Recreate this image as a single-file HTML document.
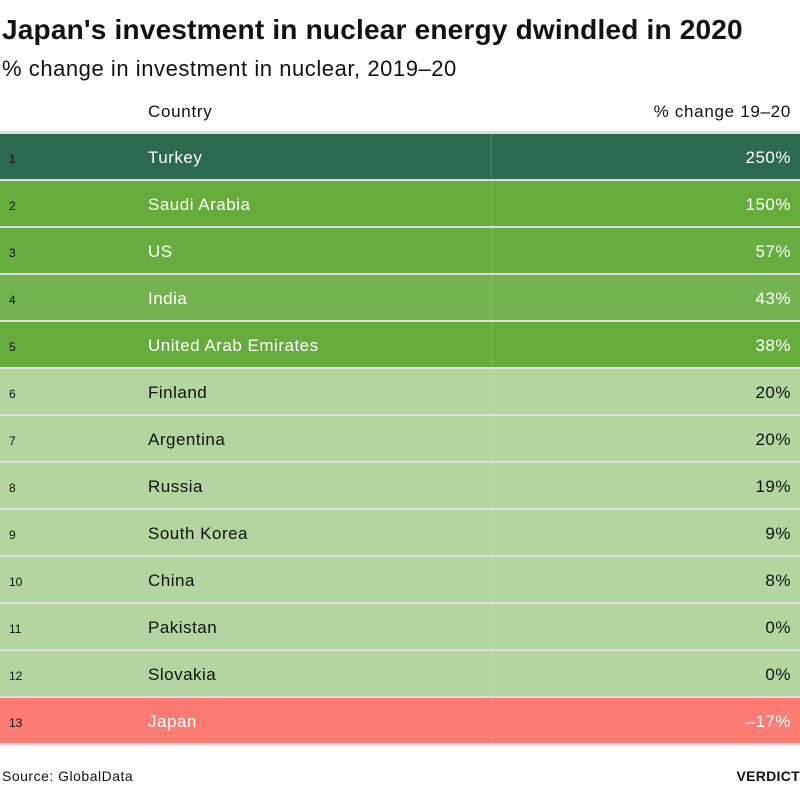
<!DOCTYPE html>
<html><head><meta charset="utf-8"><style>
body{margin:0;width:800px;height:790px;background:#fff;font-family:"Liberation Sans",sans-serif;color:#111;position:relative;overflow:hidden}
.t{position:absolute;left:2px;top:14px;font-size:28px;font-weight:bold;letter-spacing:0.2px}
.s{position:absolute;left:2px;top:56px;font-size:22px;letter-spacing:0.55px}
.h{position:absolute;top:102px;font-size:17px;letter-spacing:0.7px}
.row{position:absolute;left:0;width:800px;height:45px;border-bottom:2px solid #ddd}
.row .n{position:absolute;left:9px;top:18px;font-size:12px;color:#111}
.row .c{position:absolute;left:148px;top:14px;font-size:17px;letter-spacing:0.5px}
.row .v{position:absolute;right:9px;top:14px;font-size:17px;letter-spacing:0.5px}
.row .vl{position:absolute;left:491px;top:0;width:1px;height:45px;background:rgba(255,255,255,0.15)}
.w{color:#fff}
.f{position:absolute;top:768px;font-size:14px;letter-spacing:0.5px}
</style></head><body>
<div class="t">Japan's investment in nuclear energy dwindled in 2020</div>
<div class="s">% change in investment in nuclear, 2019–20</div>
<div class="h" style="left:148px">Country</div>
<div class="h" style="right:9px">% change 19–20</div>
<div style="position:absolute;left:0;top:131px;width:800px;height:3px;background:#ddd"></div>
<div class="row w" style="top:134px;background:#2c6a4e"><span class="vl"></span><span class="n">1</span><span class="c">Turkey</span><span class="v">250%</span></div>
<div class="row w" style="top:181px;background:#66ac3c"><span class="vl"></span><span class="n">2</span><span class="c">Saudi Arabia</span><span class="v">150%</span></div>
<div class="row w" style="top:228px;background:#68ad3f"><span class="vl"></span><span class="n">3</span><span class="c">US</span><span class="v">57%</span></div>
<div class="row w" style="top:275px;background:#74b350"><span class="vl"></span><span class="n">4</span><span class="c">India</span><span class="v">43%</span></div>
<div class="row w" style="top:322px;background:#66ac3c"><span class="vl"></span><span class="n">5</span><span class="c">United Arab Emirates</span><span class="v">38%</span></div>
<div class="row" style="top:369px;background:#b3d6a0"><span class="vl"></span><span class="n">6</span><span class="c">Finland</span><span class="v">20%</span></div>
<div class="row" style="top:416px;background:#b3d6a0"><span class="vl"></span><span class="n">7</span><span class="c">Argentina</span><span class="v">20%</span></div>
<div class="row" style="top:463px;background:#b3d6a0"><span class="vl"></span><span class="n">8</span><span class="c">Russia</span><span class="v">19%</span></div>
<div class="row" style="top:510px;background:#b3d6a0"><span class="vl"></span><span class="n">9</span><span class="c">South Korea</span><span class="v">9%</span></div>
<div class="row" style="top:557px;background:#b3d6a0"><span class="vl"></span><span class="n">10</span><span class="c">China</span><span class="v">8%</span></div>
<div class="row" style="top:604px;background:#b3d6a0"><span class="vl"></span><span class="n">11</span><span class="c">Pakistan</span><span class="v">0%</span></div>
<div class="row" style="top:651px;background:#b3d6a0"><span class="vl"></span><span class="n">12</span><span class="c">Slovakia</span><span class="v">0%</span></div>
<div class="row w" style="top:698px;background:#fc7b72;border-bottom-color:#fcd"><span class="vl"></span><span class="n" style="color:#111">13</span><span class="c">Japan</span><span class="v">–17%</span></div>
<div class="f" style="left:2px">Source: GlobalData</div>
<div class="f" style="right:0;font-weight:bold;letter-spacing:0.3px">VERDICT</div>
</body></html>
